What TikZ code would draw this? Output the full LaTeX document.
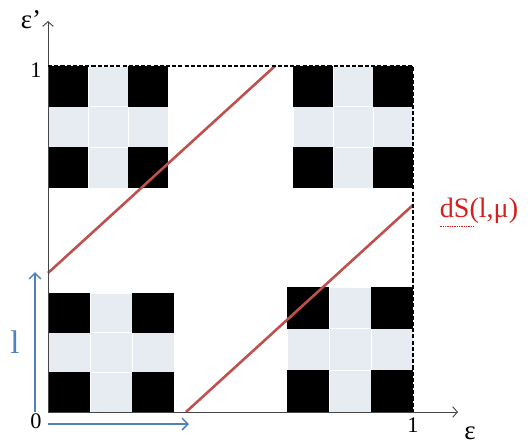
\documentclass[tikz,border=0pt]{standalone}
\usepackage{fontspec}
\setmainfont{Liberation Serif}
\usetikzlibrary{arrows.meta}
\definecolor{rossoretta}{RGB}{192,80,77}
\definecolor{rossotesto}{RGB}{214,30,30}
\definecolor{blu}{RGB}{79,129,189}
\definecolor{grigio}{RGB}{231,236,243}
\definecolor{assi}{RGB}{70,70,70}
% blocco 3x3: angolo in alto a sinistra (#1,#2), celle #3 x #4
\newcommand{\blocco}[4]{%
  \foreach \i in {0,1,2}
    \foreach \j in {0,1,2}
      \filldraw[fill=grigio,draw=white,line width=0.5pt] (#1+\i*#3,#2+\j*#4) rectangle ++(#3,#4);
  \foreach \i in {0,2}
    \foreach \j in {0,2}
      \fill[black] (#1+\i*#3,#2+\j*#4) rectangle ++(#3,#4);
}
\tikzset{
  asse/.style={assi,line width=0.8pt,-{Straight Barb[length=4pt,width=9pt]}},
  freccia/.style={blu,line width=1.3pt,-{Straight Barb[length=5pt,width=10pt]}},
  retta/.style={rossoretta,line width=2.2pt},
  bordo/.style={black,line width=1.4pt,dash pattern=on 3.5pt off 1.8pt},
  etichetta/.style={inner sep=0pt,font=\fontsize{19}{19}\selectfont}
}
\begin{document}
\begin{tikzpicture}[x=0.03cm,y=-0.03cm]
\useasboundingbox (0,0) rectangle (528,446);
%blocchi
\blocco{48}{66}{40}{40.7}
\blocco{293}{66}{40}{40.7}
\blocco{48}{293}{42}{39.7}
\blocco{287}{287}{42}{41.7}
%punti
\coordinate (O) at (48,412);
\coordinate (Xfine) at (458,412);
\coordinate (Yfine) at (48,21);
\coordinate (A) at (48,66);
\coordinate (B) at (413,66);
\coordinate (C) at (413,412);
%rette
\draw[retta] (48,273) -- (275,66);
\draw[retta] (186,412) -- (413,205);
%assi
\draw[asse] (O) -- (Xfine);
\draw[asse] (O) -- (Yfine);
%bordo tratteggiato
\draw[bordo] (A) -- (B) -- (C);
%frecce blu
\coordinate (V0) at (35,412);
\coordinate (V1) at (35,272);
\coordinate (H0) at (48,424);
\coordinate (H1) at (189,424);
\draw[freccia] (V0) -- (V1);
\draw[freccia] (H0) -- (H1);
%etichette
\node[etichetta,font=\fontsize{23}{23}\selectfont] (epsp) at (31,20) {ε’};
\node[etichetta] (uno y) at (36,70) {1};
\node[etichetta] (zero) at (36,421) {0};
\node[etichetta] (uno x) at (413,425) {1};
\node[etichetta,font=\fontsize{23}{23}\selectfont] (eps) at (470,433) {ε};
\node[etichetta,blu,font=\fontsize{28}{28}\selectfont] (elle) at (15,342) {l};
\node[etichetta,rossotesto,font=\fontsize{24}{24}\selectfont] (dS) at (479,211) {dS(l,μ)};
\draw[rossotesto,line width=0.6pt,dash pattern=on 0.6pt off 0.9pt]
  ([yshift=-2pt]dS.south west) -- ++(34,0);
\end{tikzpicture}
\end{document}
